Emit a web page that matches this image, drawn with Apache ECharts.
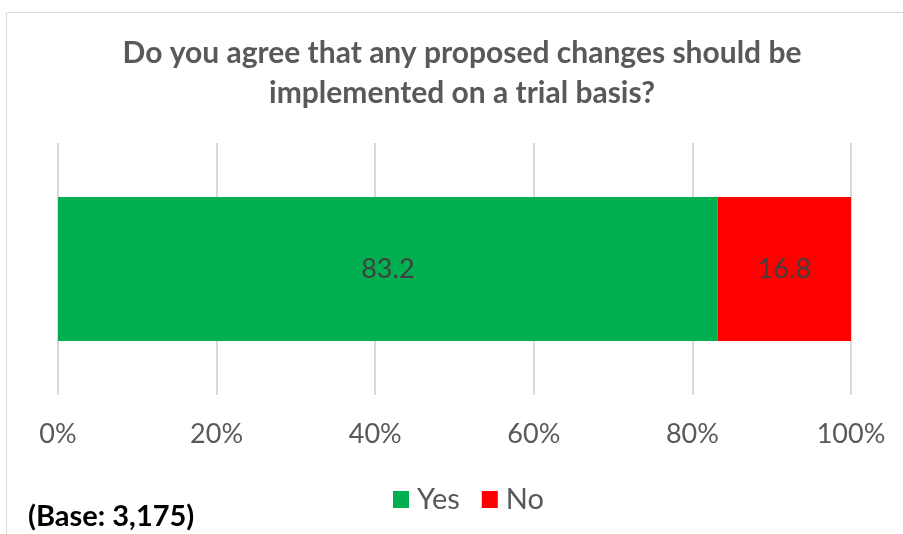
<!DOCTYPE html>
<html>
<head>
<meta charset="utf-8">
<script src="https://cdn.jsdelivr.net/npm/echarts@6/dist/echarts.min.js"></script>
<style>html,body{margin:0;padding:0;background:#fff}#c{width:903px;height:534px}</style>
</head>
<body>
<div id="c"></div>
<script>
var titleText = 'Do you agree that any proposed changes should be\nimplemented on a trial basis?';
var categories = ['Q'];
var seriesNames = ['Yes', 'No'];
var yesValues = [83.2];
var noValues = [16.8];
var tickLabels = ['0%', '20%', '40%', '60%', '80%', '100%'];
var baseNote = '(Base: 3,175)';

var FONT = 'Lato';
var chart = echarts.init(document.getElementById('c'));
chart.setOption({
  animation: false,
  backgroundColor: '#fff',
  title: {
    text: titleText,
    left: 462, top: 33, textAlign: 'center', padding: 0,
    textStyle: {fontFamily: FONT, fontSize: 30, fontWeight: 'bold', color: '#595959', lineHeight: 40}
  },
  legend: {
    data: seriesNames,
    left: 393, top: 485, padding: 0,
    itemWidth: 16, itemHeight: 17, itemGap: 22,
    icon: 'rect',
    textStyle: {fontFamily: FONT, fontSize: 29, color: '#595959', padding: [0, 0, 0, 3]}
  },
  grid: {left: 58, right: 52, top: 143, bottom: 139, containLabel: false},
  xAxis: {
    type: 'value', min: 0, max: 100, interval: 20,
    axisLine: {show: false}, axisTick: {show: false},
    splitLine: {lineStyle: {color: '#d9d9d9', width: 2}},
    axisLabel: {
      margin: 26, fontFamily: FONT, fontSize: 27, color: '#595959',
      formatter: function (v) { return tickLabels[Math.round(v / 20)]; }
    }
  },
  yAxis: {
    type: 'category', data: categories,
    axisLine: {show: false}, axisTick: {show: false}, axisLabel: {show: false}
  },
  series: [
    {name: seriesNames[0], type: 'bar', stack: 'a', data: yesValues, barWidth: 144,
     itemStyle: {color: '#00b050'},
     label: {show: true, position: 'inside', fontFamily: FONT, fontSize: 27, color: '#404040', formatter: function (p) { return p.value.toFixed(1); }}},
    {name: seriesNames[1], type: 'bar', stack: 'a', data: noValues, barWidth: 144,
     itemStyle: {color: '#ff0000'},
     label: {show: true, position: 'inside', fontFamily: FONT, fontSize: 27, color: '#404040', formatter: function (p) { return p.value.toFixed(1); }}}
  ],
  graphic: [
    {type: 'rect', shape: {x: 6.5, y: 12.5, width: 1000, height: 1000}, style: {fill: 'none', stroke: '#d9d9d9', lineWidth: 1}, silent: true},
    {type: 'text', left: 28, top: 502, style: {text: baseNote, fontFamily: FONT, fontSize: 29, fontWeight: 'bold', fill: '#000'}}
  ]
});
</script>
</body>
</html>
